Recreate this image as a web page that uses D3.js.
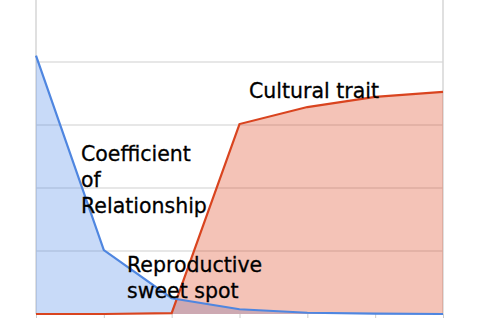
<!DOCTYPE html>
<html>
<head>
<meta charset="utf-8">
<script src="https://cdn.jsdelivr.net/npm/d3@7"></script>
<style>
  body { margin: 0; background: #fff; }
  svg { display: block; }
  .lbl { font-family: "DejaVu Sans", sans-serif; font-size: 20.5px; fill: #000; stroke: #000; stroke-width: 0.3px; }
</style>
</head>
<body>
<svg id="chart" width="480" height="320"></svg>
<script>
// data
const steps = ["1", "2", "3", "4", "5", "6", "7"]
const relationship = [0.82, 0.203, 0.05, 0.015, 0.004, 0.001, 0]
const cultural = [0, 0, 0.003, 0.603, 0.657, 0.689, 0.705]
const yTicks = [0, 0.2, 0.4, 0.6, 0.8, 1.0]

const labels = [
  {lines: ["Cultural trait"], x: 249, y: 98},
  {lines: ["Coefficient", "of", "Relationship"], x: 81, y: 161},
  {lines: ["Reproductive", "sweet spot"], x: 127, y: 272}
]

let svg = d3.select("#chart")

let xScale = d3.scalePoint().domain(steps).range([36, 443])
let yScale = d3.scaleLinear().domain([0, 1]).range([314, -1])

// grid
svg.append("g")
    .selectAll("line")
    .data(yTicks.slice(1))
    .enter()
    .append("line")
    .attr("x1", 36).attr("x2", 443)
    .attr("y1", d => yScale(d)).attr("y2", d => yScale(d))
    .style("stroke", "#cfcfcf").style("stroke-width", 1)

// left and right frame lines
svg.append("g")
    .selectAll("line")
    .data([steps[0], steps[steps.length - 1]])
    .enter()
    .append("line")
    .attr("x1", d => xScale(d)).attr("x2", d => xScale(d))
    .attr("y1", 0).attr("y2", yScale(0))
    .style("stroke", "#d6d6d6").style("stroke-width", 1.5)

// bottom ticks
let x_axis = d3.axisBottom(xScale).tickSize(4).tickFormat("")
svg.append("g")
    .attr("transform", `translate(0,${yScale(0)})`)
    .call(x_axis)
    .call(g => g.select(".domain").remove())
    .call(g => g.selectAll(".tick line").style("stroke", "#cccccc"))

let area = d3.area()
    .x((d, i) => xScale(steps[i]))
    .y0(yScale(0))
    .y1(d => yScale(d))
let line = d3.line()
    .x((d, i) => xScale(steps[i]))
    .y(d => yScale(d))

svg.append("path").attr("d", area(relationship))
    .style("fill", "#4a86e8").style("fill-opacity", 0.3)
svg.append("path").attr("d", area(cultural))
    .style("fill", "#dc3912").style("fill-opacity", 0.3)

svg.append("path").attr("d", line(cultural))
    .style("fill", "none").style("stroke", "#d9441f").style("stroke-width", 2.2)
svg.append("path").attr("d", line(relationship))
    .style("fill", "none").style("stroke", "#4f86e0").style("stroke-width", 2.2)

// text labels
labels.forEach(l => {
    let t = svg.append("text").attr("class", "lbl")
        .attr("x", l.x).attr("y", l.y)
    t.selectAll("tspan")
        .data(l.lines)
        .enter()
        .append("tspan")
        .attr("x", l.x)
        .attr("dy", (d, i) => i == 0 ? 0 : 26)
        .text(d => d)
})
</script>
</body>
</html>
